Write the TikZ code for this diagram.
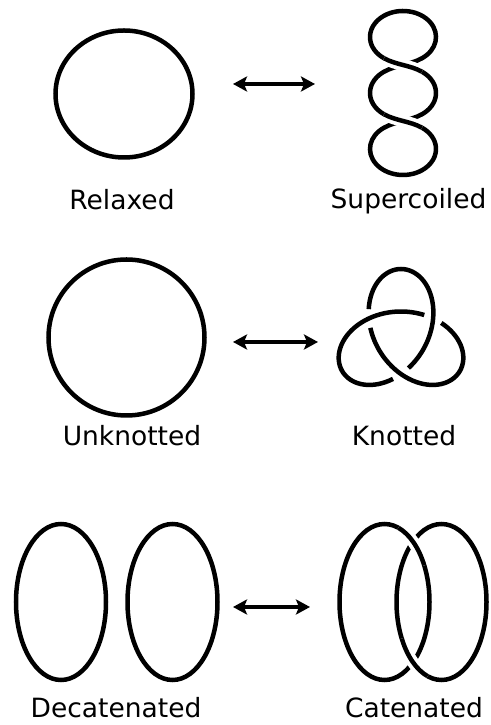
\documentclass[tikz,border=0pt]{standalone}
\usepackage{fontspec}
\setmainfont{DejaVu Sans}
\usetikzlibrary{arrows.meta}
\begin{document}
\begin{tikzpicture}[x=1pt,y=1pt,
  strand/.style={line width=4.5pt, black},
  overstrand/.style={line width=4.5pt, black, preaction={draw=white, line width=12pt}},
  twoway/.style={line width=3.6pt,
    {Stealth[length=14pt,width=15pt,inset=3pt]}-{Stealth[length=14pt,width=15pt,inset=3pt]}},
  caption/.style={anchor=base, inner sep=0pt, font=\fontsize{26.5}{30}\selectfont}]
\useasboundingbox (0,0) rectangle (490,725);

% ---------- row 1: relaxed / supercoiled ----------
\draw[strand] (124,631) ellipse[x radius=68.5, y radius=63.5];

% supercoiled loop: three stacked loops joined by crossing strands
\draw[strand] (421.93,666.70)
    arc[start angle=-55, end angle=235, x radius=33, y radius=26]
    .. controls +(12.2,-6.7) and +(-12.2,6.7) .. (421.93,653.30)
    arc[start angle=55, end angle=-55, x radius=33, y radius=26]
    .. controls +(-12.2,-6.7) and +(12.2,6.7) .. (384.07,597.30)
    arc[start angle=125, end angle=415, x radius=33, y radius=26]
    .. controls +(-12.2,6.7) and +(12.2,-6.7) .. (384.07,610.70)
    arc[start angle=235, end angle=125, x radius=33, y radius=26]
    .. controls +(12.2,6.7) and +(-12.2,-6.7) .. (421.93,666.70) -- cycle;
\draw[overstrand] (384.07,666.70) .. controls +(12.2,-6.7) and +(-12.2,6.7) .. (421.93,653.30);
\draw[overstrand] (384.07,610.70) .. controls +(12.2,-6.7) and +(-12.2,6.7) .. (421.93,597.30);

\coordinate (a1l) at (233,641);
\coordinate (a1r) at (315,641);
\draw[twoway] (a1l) -- (a1r);

\node[caption] (relaxed) at (122,515) {Relaxed};
\node[caption] (supercoiled) at (408.5,516.5) {Supercoiled};

% ---------- row 2: unknotted / knotted ----------
\draw[strand] (126.5,387.5) circle[radius=78];

% trefoil knot, three arcs each passing over one crossing
\foreach \a/\b in {21.9/131.9, 141.9/251.9, 261.9/371.9}
  \draw[strand] plot[smooth, samples=50, domain=\a:\b, variable=\t]
    ({401 + 21.25*(sin(\t) + 2.2*sin(2*\t))}, {388 - 21.25*(cos(\t) - 2.2*cos(2*\t))});

\coordinate (a2l) at (233,383);
\coordinate (a2r) at (318,383);
\draw[twoway] (a2l) -- (a2r);

\node[caption] (unknotted) at (132,279) {Unknotted};
\node[caption] (knotted) at (404,279) {Knotted};

% ---------- row 3: decatenated / catenated ----------
\draw[strand] (61,123) ellipse[x radius=45, y radius=78];
\draw[strand] (172.5,123) ellipse[x radius=45, y radius=78];

\draw[strand] (384.5,123) ellipse[x radius=45, y radius=78];
\draw[strand] (441.5,123) ellipse[x radius=45, y radius=78];
\draw[overstrand] (384.5,123) ++(28:45 and 78)
    arc[start angle=28, end angle=72, x radius=45, y radius=78];
\draw[overstrand] (441.5,123) ++(208:45 and 78)
    arc[start angle=208, end angle=252, x radius=45, y radius=78];

\coordinate (a3l) at (233,118);
\coordinate (a3r) at (310,118);
\draw[twoway] (a3l) -- (a3r);

\node[caption] (decatenated) at (116,8) {Decatenated};
\node[caption] (catenated) at (414,8) {Catenated};
\end{tikzpicture}
\end{document}
